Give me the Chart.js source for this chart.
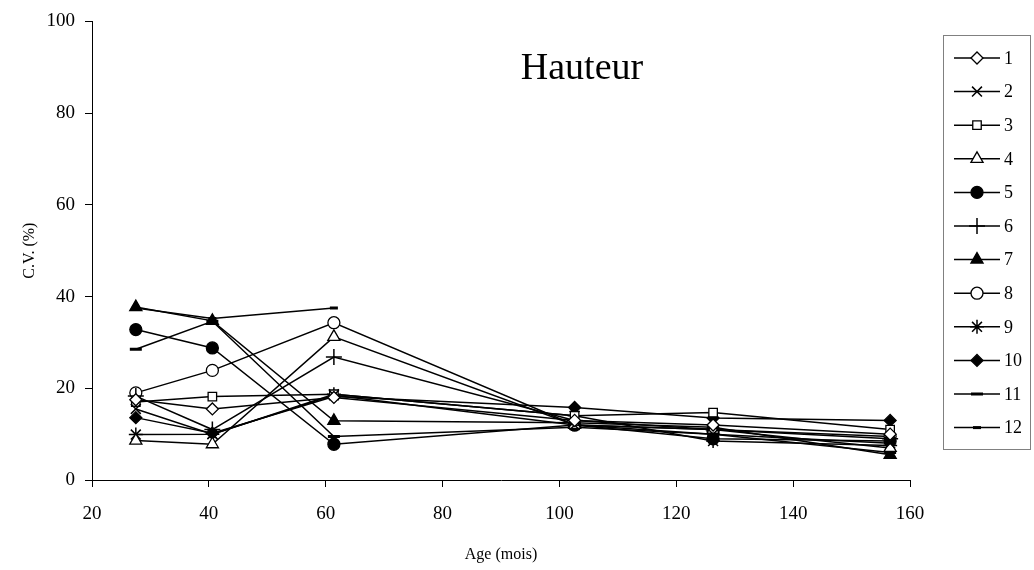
<!DOCTYPE html>
<html>
<head>
<meta charset="utf-8">
<script src="https://cdn.jsdelivr.net/npm/chart.js@4/dist/chart.umd.min.js"></script>
<style>
  html, body { margin: 0; padding: 0; background: #fff; }
  #wrap { width: 1034px; height: 570px; position: relative; }
</style>
</head>
<body>
<div id="wrap"><canvas id="c" width="1034" height="570"></canvas></div>
<script>
// ---- Data ----
const ages = [27.5, 40.6, 61.4, 102.6, 126.3, 156.6];
const seriesNames = ["1","2","3","4","5","6","7","8","9","10","11","12"];
const s1  = [17.5, 15.5, 18.0, 13.0, 12.0, 10.0];
const s2  = [15.5, 10.0, 18.5, 12.0, 10.0,  8.0];
const s3  = [17.0, 18.2, 18.7, 14.0, 14.7, 11.0];
const s4  = [ 8.6,  7.8, 31.2, 12.0, 11.0,  7.0];
const s5  = [32.8, 28.8,  7.8, 12.0,  9.0,  8.5];
const s6  = [18.3, 11.0, 26.8, 13.0, 11.0,  9.0];
const s7  = [37.7, 34.7, 12.9, 12.5, 11.5,  5.5];
const s8  = [19.0, 23.9, 34.3, 12.0, 11.0,  9.5];
const s9  = [ 9.9, 10.0, 18.7, 14.0,  8.5,  7.5];
const s10 = [13.6, 10.2, 18.2, 15.8, 13.5, 13.0];
const s11 = [28.5, 34.6,  9.5, 11.5, 10.0,  6.0];
const s12 = [37.5, 35.2, 37.5, null, null, null];
const allSeries = [s1,s2,s3,s4,s5,s6,s7,s8,s9,s10,s11,s12];
const xTicks = [20, 40, 60, 80, 100, 120, 140, 160];
const yTicks = [0, 20, 40, 60, 80, 100];

// marker look per series
const marks = [
  {style:"rectRot",  fill:"#fff", r:6,   bw:1.3},
  {style:"crossRot", fill:"#000", r:7,   bw:1.5},
  {style:"rect",     fill:"#fff", r:6,   bw:1.3},
  {style:"triangle", fill:"#fff", r:7,   bw:1.3},
  {style:"circle",   fill:"#000", r:6,   bw:1.3},
  {style:"cross",    fill:"#000", r:8,   bw:1.5},
  {style:"triangle", fill:"#000", r:7,   bw:1.3},
  {style:"circle",   fill:"#fff", r:6,   bw:1.3},
  {style:"star",     fill:"#000", r:7,   bw:1.5},
  {style:"rectRot",  fill:"#000", r:6,   bw:1.3},
  {style:"line",     fill:"#000", r:6,   bw:3},
  {style:"line",     fill:"#000", r:4,   bw:3}
];

const SERIF = "'Liberation Serif', 'DejaVu Serif', serif";

const datasets = allSeries.map((vals, i) => ({
  label: seriesNames[i],
  data: ages.map((a, k) => ({x: a, y: vals[k]})),
  borderColor: "#000",
  borderWidth: 1.5,
  pointStyle: marks[i].style,
  pointRadius: marks[i].r,
  pointBackgroundColor: marks[i].fill,
  pointBorderColor: "#000",
  pointBorderWidth: marks[i].bw,
  spanGaps: false,
  tension: 0
}));

// title inside plot + boxed legend on the right
const extras = {
  id: "extras",
  afterDraw(chart) {
    const ctx = chart.ctx;
    ctx.save();
    ctx.fillStyle = "#000";
    ctx.font = "38px " + SERIF;
    ctx.textAlign = "center";
    ctx.textBaseline = "middle";
    ctx.fillText("Hauteur", 582, 69);

    // legend box
    const bx = 943, by = 35, bw = 87, bh = 414;
    ctx.strokeStyle = "#808080";
    ctx.lineWidth = 1;
    ctx.strokeRect(bx + 0.5, by + 0.5, bw, bh);
    const top = 58, step = 33.6;
    ctx.font = "18px " + SERIF;
    ctx.textAlign = "left";
    datasets.forEach((ds, i) => {
      const y = top + i * step;
      ctx.strokeStyle = "#000";
      ctx.lineWidth = 1.5;
      ctx.beginPath();
      ctx.moveTo(954, y);
      ctx.lineTo(1000, y);
      ctx.stroke();
      ctx.fillStyle = ds.pointBackgroundColor;
      ctx.strokeStyle = "#000";
      ctx.lineWidth = ds.pointBorderWidth;
      Chart.helpers.drawPoint(ctx, {pointStyle: ds.pointStyle, radius: ds.pointRadius, borderWidth: ds.pointBorderWidth, rotation: 0}, 977, y);
      ctx.fillStyle = "#000";
      ctx.fillText(ds.label, 1004, y + 1);
    });
    ctx.restore();
  }
};

new Chart(document.getElementById("c"), {
  type: "line",
  data: { datasets },
  options: {
    responsive: false,
    animation: false,
    devicePixelRatio: 1,
    layout: { padding: { left: 20, right: 124, top: 15, bottom: 0 } },
    plugins: {
      legend: { display: false },
      tooltip: { enabled: false }
    },
    scales: {
      x: {
        type: "linear",
        min: 20, max: 160,
        afterBuildTicks: s => { s.ticks = xTicks.map(v => ({value: v})); },
        afterFit: s => { s.height = 90; },
        grid: { drawOnChartArea: false, tickLength: 7, color: "#000", tickColor: "#000" },
        border: { color: "#000", width: 1 },
        ticks: { color: "#000", font: { family: SERIF, size: 19 }, padding: 16, maxRotation: 0 },
        title: { display: true, text: "Age (mois)", color: "#000", font: { family: SERIF, size: 16 }, padding: { top: 10, bottom: 6 } }
      },
      y: {
        min: 0, max: 100,
        afterBuildTicks: s => { s.ticks = yTicks.map(v => ({value: v})); },
        afterFit: s => { s.width = 72; },
        grid: { drawOnChartArea: false, tickLength: 7, color: "#000", tickColor: "#000" },
        border: { color: "#000", width: 1 },
        ticks: { color: "#000", font: { family: SERIF, size: 19 }, padding: 10 },
        title: { display: true, text: "C.V. (%)", color: "#000", font: { family: SERIF, size: 16 }, padding: { top: 0, bottom: 0 } }
      }
    }
  },
  plugins: [extras]
});
</script>
</body>
</html>
